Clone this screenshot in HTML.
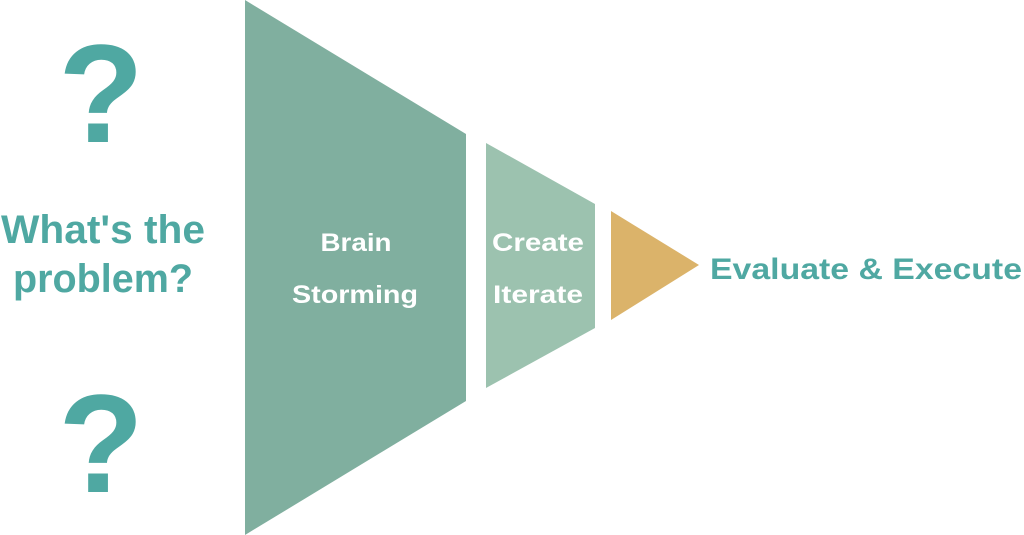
<!DOCTYPE html>
<html><head><style>
body{margin:0;width:1024px;height:535px;background:#fff;overflow:hidden;position:relative;font-family:"Liberation Sans",sans-serif}
</style></head><body>
<svg width="1024" height="535" style="position:absolute;left:0;top:0">
<polygon points="245,0 466,134 466,401 245,535" fill="#80AF9F"/>
<polygon points="486,143 595,204 595,328 486,388" fill="#9CC2AF"/>
<polygon points="611,211 699,265 611,320" fill="#DBB36A"/>
<g font-family="Liberation Sans, sans-serif" font-weight="bold" text-anchor="middle" lengthAdjust="spacingAndGlyphs">
<text x="101" y="142" font-size="140" fill="#4FA8A2">?</text>
<text x="101" y="492" font-size="140" fill="#4FA8A2">?</text>
<text x="103" y="243" font-size="40" fill="#4FA8A2" textLength="204" lengthAdjust="spacingAndGlyphs">What's the</text>
<text x="103" y="292" font-size="40" fill="#4FA8A2" textLength="180" lengthAdjust="spacingAndGlyphs">problem?</text>
<text x="356" y="251" font-size="25" fill="#fff" textLength="71" lengthAdjust="spacingAndGlyphs">Brain</text>
<text x="355" y="303" font-size="25" fill="#fff" textLength="126" lengthAdjust="spacingAndGlyphs">Storming</text>
<text x="538" y="251" font-size="25" fill="#fff" textLength="92" lengthAdjust="spacingAndGlyphs">Create</text>
<text x="538" y="303" font-size="25" fill="#fff" textLength="90" lengthAdjust="spacingAndGlyphs">Iterate</text>
<text x="866" y="279" font-size="30" fill="#4FA8A2" textLength="312" lengthAdjust="spacingAndGlyphs">Evaluate &amp; Execute</text>
</g>
</svg>
</body></html>
